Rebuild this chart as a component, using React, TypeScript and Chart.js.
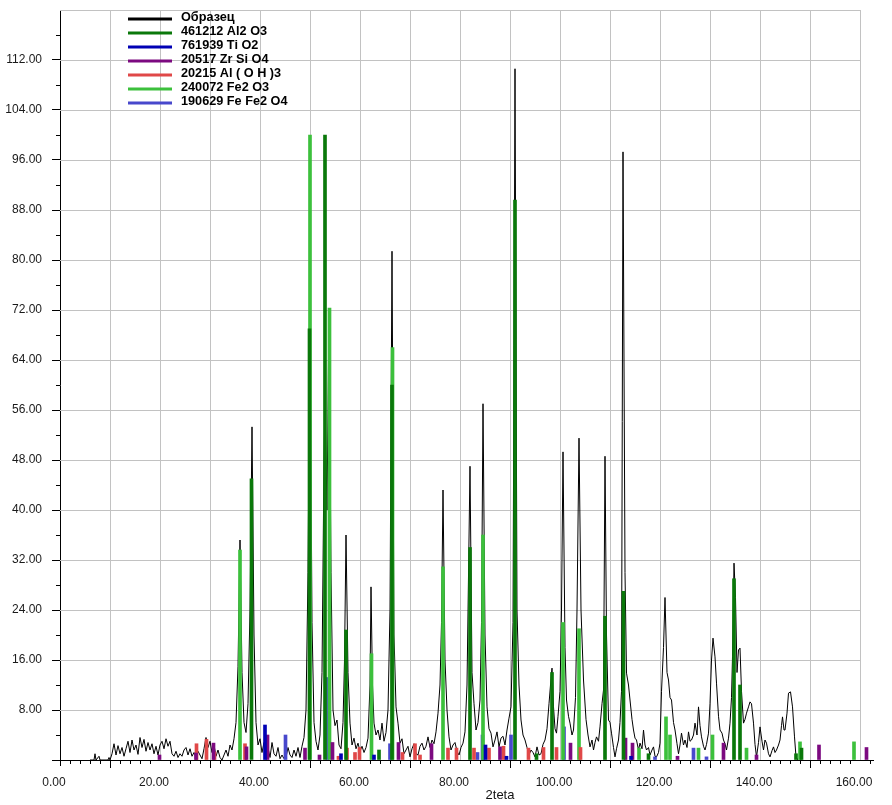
import React, { useEffect, useRef } from 'react';
import { Chart, registerables } from 'chart.js';
Chart.register(...registerables);

// ---- data: 2theta (deg), intensity ----
const sampleLabel = 'Образец';
const sample: [number, number][] = [
  [6, 0], [6.8, 0], [7.0, 1.0], [7.2, 0], [7.8, 0.6], [8.0, 0], [9.6, 0], [9.8, 0.4], [10.0, 0],
  [10.4, 1.0], [10.8, 2.6], [11.2, 0.8], [11.6, 2.3], [12.0, 1.0], [12.4, 2.0], [12.8, 0.6], [13.2, 1.8],
  [13.6, 3.0], [14.0, 1.2], [14.4, 3.2], [14.8, 1.6], [15.2, 2.4], [15.6, 0.9], [16.0, 3.6], [16.4, 2.0],
  [16.8, 3.3], [17.2, 1.4], [17.6, 2.8], [18.0, 1.6], [18.4, 2.6], [18.8, 1.0], [19.2, 2.2], [19.6, 0.8],
  [20.0, 2.4], [20.4, 3.0], [20.8, 1.8], [21.2, 3.4], [21.6, 2.2], [22.0, 3.0], [22.4, 1.0], [22.8, 0.6],
  [23.2, 1.4], [23.6, 0.4], [24.0, 1.0], [24.4, 0.6], [24.8, 1.6], [25.2, 2.0], [25.6, 0.8], [26.0, 1.8],
  [26.4, 0.6], [26.8, 1.2], [27.2, 0.4], [27.6, 1.4], [28.0, 0.8], [28.4, 0.2], [28.8, 1.8], [29.2, 3.6],
  [29.6, 2.0], [30.0, 3.0], [30.4, 1.2], [30.8, 2.4], [31.2, 0.6], [31.6, 1.6], [32.0, 0.4], [32.4, 0.0],
  [32.8, 0.8], [33.2, 1.6], [33.6, 0.6], [34.0, 2.4], [34.4, 1.6], [34.8, 3.4], [35.2, 6], [35.6, 15],
  [36.0, 35.2], [36.4, 14], [36.8, 6], [37.2, 4.4], [37.6, 9], [38.0, 24], [38.4, 53.3], [38.8, 20],
  [39.2, 6], [39.6, 2.4], [40.0, 3.4], [40.4, 1.2], [40.8, 2.8], [41.2, 0.6], [41.6, 2.0], [42.0, 0.4],
  [42.4, 2.8], [42.8, 1.0], [43.2, 0.6], [43.6, 2.0], [44.0, 0.2], [44.4, 0.8], [44.8, 0.2], [45.2, 0.4],
  [45.6, 2.0], [46.0, 0.8], [46.4, 0.4], [46.8, 1.6], [47.2, 0.6], [47.6, 2.0], [48.0, 0.4], [48.4, 2.2],
  [48.8, 3.6], [49.2, 8], [49.6, 30], [50.0, 70], [50.4, 22], [50.8, 6], [51.2, 3], [51.6, 1.6],
  [52.0, 4], [52.4, 14], [52.8, 48], [53.0, 57.6], [53.4, 40], [53.8, 72.3], [54.2, 30], [54.6, 8],
  [55.0, 5.5], [55.4, 6.4], [55.8, 2.4], [56.2, 1.8], [56.6, 6], [56.9, 16], [57.2, 36], [57.6, 14],
  [58.0, 5.9], [58.4, 2.4], [58.8, 3.5], [59.2, 1.8], [59.6, 2.7], [60.0, 1.4], [60.4, 2.2], [60.8, 1.2],
  [61.2, 2.0], [61.6, 3.5], [62.0, 12], [62.2, 27.7], [62.5, 12], [62.8, 5.9], [63.2, 4.0], [63.6, 4.8],
  [64.0, 3.2], [64.4, 5.9], [64.8, 3.0], [65.2, 4.4], [65.6, 8], [66.0, 24], [66.4, 81.4], [66.8, 20],
  [67.2, 8.5], [67.6, 5.9], [68.0, 2.7], [68.4, 3.4], [68.8, 1.0], [69.2, 1.6], [69.6, 2.2], [70.0, 0.5],
  [70.4, 1.8], [70.8, 2.6], [71.2, 1.0], [71.6, 0.8], [72.0, 2.2], [72.4, 2.7], [72.8, 1.6], [73.2, 2.2],
  [73.6, 3.7], [74.0, 2.0], [74.4, 3.2], [74.8, 2.6], [75.2, 4.5], [75.6, 7.5], [76.0, 12], [76.3, 22],
  [76.6, 43.2], [77.0, 16], [77.4, 8], [77.8, 3.7], [78.2, 1.6], [78.6, 2.4], [79.0, 2.8], [79.4, 1.4],
  [79.8, 0.8], [80.2, 2.0], [80.6, 2.7], [81.0, 4.5], [81.4, 12], [82.0, 47], [82.4, 14], [82.8, 9],
  [83.2, 4.8], [83.6, 6], [84.0, 9.6], [84.3, 22], [84.6, 57], [85.0, 20], [85.4, 8.5], [85.8, 5],
  [86.2, 4.3], [86.6, 2.1], [87.0, 3.2], [87.4, 4.5], [87.8, 2.1], [88.2, 3.5], [88.6, 3.8], [89.0, 2.4],
  [89.4, 4.8], [89.8, 6.7], [90.2, 8.5], [90.6, 22], [91.0, 110.6], [91.4, 24], [91.8, 12], [92.2, 6.4],
  [92.6, 4.0], [93.0, 3.2], [93.4, 2.0], [93.8, 0.8], [94.2, 1.6], [94.6, 1.2], [95.0, 0.5], [95.4, 2.1],
  [95.8, 0.8], [96.2, 1.0], [96.6, 2.5], [97.0, 3.2], [97.4, 5], [97.8, 9], [98.2, 13], [98.4, 14.7],
  [98.7, 8.5], [99.0, 5], [99.3, 4.3], [99.6, 7], [100.0, 11], [100.3, 24], [100.6, 49.3], [101.0, 18],
  [101.3, 9.6], [101.7, 7], [102.0, 5.9], [102.4, 4.0], [102.7, 4.8], [103.1, 10], [103.4, 24], [103.8, 51.5],
  [104.2, 24], [104.7, 12.8], [105.2, 6.5], [105.6, 4], [106.0, 2.1], [106.4, 3.2], [106.7, 1.6], [107.0, 2.8],
  [107.3, 3.7], [107.7, 3.0], [108.0, 5.3], [108.4, 9], [108.7, 11.2], [109.0, 48.6], [109.3, 20], [109.7, 6.4],
  [110.0, 6], [110.3, 4.3], [110.7, 2], [111.0, 0.5], [111.3, 1.8], [111.7, 3.2], [112.0, 6], [112.3, 11],
  [112.6, 97.3], [113.0, 30], [113.3, 13.9], [113.7, 12], [114.0, 9.6], [114.4, 6.5], [114.7, 4.8], [115.0, 3.5],
  [115.3, 3.2], [115.7, 1.6], [116.0, 2.7], [116.4, 1.8], [116.7, 4.8], [117.0, 2.4], [117.3, 1.6], [117.7, 2.0],
  [118.0, 0.8], [118.4, 1.6], [118.7, 2.1], [119.0, 0.6], [119.3, 0.5], [119.7, 1.2], [120.0, 2.7], [120.3, 11],
  [120.7, 18], [121.0, 26], [121.4, 14], [121.7, 12.8], [122.0, 10], [122.3, 9.6], [122.7, 6], [123.0, 4.8],
  [123.4, 2.6], [123.7, 1.0], [124.0, 2.4], [124.3, 4.3], [124.7, 2.4], [125.0, 3.2], [125.4, 2.0], [125.7, 4.5],
  [126.0, 3.0], [126.3, 3.2], [126.7, 4.0], [127.0, 5.9], [127.4, 4], [127.7, 8.5], [128.0, 5.5], [128.3, 3.7],
  [128.7, 2.2], [129.0, 1.6], [129.3, 2.5], [129.7, 4.3], [130.0, 9], [130.3, 16], [130.6, 19.5], [131.0, 16.5],
  [131.3, 12.3], [131.7, 7], [132.0, 4.8], [132.4, 4.3], [132.7, 3.2], [133.0, 2.6], [133.3, 1.6], [133.7, 3.5],
  [134.0, 5.9], [134.3, 10], [134.5, 16.5], [134.8, 31.5], [135.1, 26], [135.4, 14], [135.7, 17.6], [136.0, 17.9],
  [136.3, 11], [136.7, 5.9], [137.0, 6.5], [137.3, 7.5], [137.7, 8.5], [138.0, 9.3], [138.3, 9.0], [138.7, 5.9],
  [139.0, 2.5], [139.3, 0.5], [139.7, 2.8], [140.0, 5.3], [140.4, 3.0], [140.7, 1.6], [141.0, 3.2], [141.3, 2.7],
  [141.7, 1.0], [142.0, 0.5], [142.4, 1.5], [142.7, 2.1], [143.0, 1.2], [143.3, 1.6], [143.7, 2.4], [144.0, 3.2],
  [144.3, 5.5], [144.5, 6.9], [144.8, 4.8], [145.0, 4.8], [145.4, 7.5], [145.7, 10.7], [146.1, 10.9], [146.5, 8.5],
  [146.9, 3.7], [147.2, 0.5], [147.6, 0],
];

const al2o3Label = '461212 Al2 O3';
const al2o3: [number, number][] = [
  [38.3, 45], [49.9, 69], [53.0, 100], [57.2, 20.8], [63.8, 1.6], [66.4, 60], [82.0, 34], [91.0, 89.6],
  [95.3, 1.0], [98.4, 14], [109.0, 23], [112.7, 27], [117.7, 1.0], [134.8, 29], [136.0, 12], [147.2, 1.0], [148.3, 1.9],
];

const tio2Label = '761939 Ti O2';
const tio2: [number, number][] = [
  [41.0, 5.6], [56.2, 1.0], [62.8, 0.8], [85.1, 2.4], [89.3, 0.6], [114.2, 0.6],
];

const zrsio4Label = '20517 Zr Si O4';
const zrsio4: [number, number][] = [
  [19.9, 0.8], [27.2, 1.1], [30.7, 2.7], [37.3, 2.1], [41.5, 4.0], [49.0, 1.9], [51.9, 0.8], [54.5, 2.8],
  [67.7, 2.8], [74.3, 2.6], [88.0, 2.1], [102.1, 2.7], [113.1, 3.5], [114.5, 2.7], [123.5, 0.6], [132.7, 2.7],
  [139.3, 0.8], [151.8, 2.4], [161.3, 2.0],
];

const aloh3Label = '20215 Al ( O H )3';
const aloh3: [number, number][] = [
  [27.3, 2.6], [29.3, 3.3], [30.9, 1.3], [37.0, 2.6], [55.7, 0.6], [57.4, 1.9], [59.0, 1.2], [59.9, 2.0],
  [68.5, 1.2], [71.0, 2.6], [72.0, 0.8], [77.6, 1.9], [79.3, 1.9], [82.8, 1.9], [85.8, 1.9], [88.7, 2.2],
  [93.7, 1.9], [96.7, 2.0], [99.3, 2.0], [104.1, 2.0],
];

const fe2o3Label = '240072 Fe2 O3';
const fe2o3: [number, number][] = [
  [36.0, 33.6], [50.0, 100], [53.9, 72.3], [62.3, 17], [66.5, 66], [76.6, 30.9], [84.6, 36], [100.6, 22],
  [103.8, 21], [115.8, 1.9], [121.2, 6.9], [122.0, 4.0], [127.7, 1.9], [130.5, 4.0], [137.3, 1.9], [148.0, 2.9],
  [158.8, 2.9],
];

const fefe2o4Label = '190629 Fe Fe2 O4';
const fefe2o4: [number, number][] = [
  [45.1, 4.0], [53.5, 13.2], [66.0, 2.6], [83.5, 1.2], [84.5, 4.0], [90.2, 4.0], [100.8, 5.3], [119.0, 0.5],
  [126.7, 1.9], [129.3, 0.5],
];

const xTitle = '2teta';
const X_MIN = 0, X_MAX = 162.6, X_GRID_END = 160, X_MAJOR = 20, X_MINOR = 2, X_GRID = 10;
const Y_MIN = 0, Y_MAX = 120, Y_MAJOR = 8, Y_MINOR = 4;

const COLORS = {
  sample: '#000000',
  al2o3: '#0a780a',
  tio2: '#0000b4',
  zrsio4: '#7c0a80',
  aloh3: '#e04848',
  fe2o3: '#3cc03c',
  fefe2o4: '#4848cc',
};

const toXY = (a: [number, number][]) => a.map(([x, y]) => ({ x, y }));

const FONT = "'Liberation Sans', Arial, sans-serif";

const decorPlugin = {
  id: 'decor',
  beforeDatasetsDraw(chart: any) {
    const { ctx } = chart;
    const xs = chart.scales.x, ys = chart.scales.y;
    const x0 = xs.getPixelForValue(X_MIN), x1 = xs.getPixelForValue(X_GRID_END);
    const y0 = ys.getPixelForValue(Y_MIN), y1 = ys.getPixelForValue(Y_MAX);
    ctx.save();
    ctx.strokeStyle = '#c2c2c2';
    ctx.lineWidth = 1;
    ctx.beginPath();
    for (let v = Y_MAJOR; v <= Y_MAX; v += Y_MAJOR) {
      const py = Math.round(ys.getPixelForValue(v)) + 0.5;
      ctx.moveTo(x0, py); ctx.lineTo(x1, py);
    }
    for (let v = X_GRID; v <= X_GRID_END; v += X_GRID) {
      const px = Math.round(xs.getPixelForValue(v)) + 0.5;
      ctx.moveTo(px, y0); ctx.lineTo(px, y1);
    }
    ctx.stroke();
    ctx.restore();
  },
  afterDraw(chart: any) {
    const { ctx } = chart;
    const xs = chart.scales.x, ys = chart.scales.y;
    const y0 = Math.round(ys.getPixelForValue(Y_MIN));
    const x0 = Math.round(xs.getPixelForValue(X_MIN));
    ctx.save();
    ctx.strokeStyle = '#000';
    ctx.lineWidth = 1;
    ctx.beginPath();
    for (let v = X_MINOR; v <= X_MAX; v += X_MINOR) {
      if (Math.abs(v % X_MAJOR) < 1e-6) continue;
      const px = Math.round(xs.getPixelForValue(v)) + 0.5;
      ctx.moveTo(px, y0); ctx.lineTo(px, y0 + 4);
    }
    for (let v = Y_MINOR; v < Y_MAX; v += Y_MAJOR) {
      const py = Math.round(ys.getPixelForValue(v)) + 0.5;
      ctx.moveTo(x0 - 4, py); ctx.lineTo(x0, py);
    }
    ctx.moveTo(x0 - 7, y0 + 0.5); ctx.lineTo(x0, y0 + 0.5);
    ctx.moveTo(x0 + 0.5, y0); ctx.lineTo(x0 + 0.5, y0 + 6);
    ctx.stroke();

    // legend
    const ds = chart.data.datasets;
    ctx.font = `bold 12.7px ${FONT}`;
    ctx.textBaseline = 'middle';
    ctx.textAlign = 'left';
    ds.forEach((d: any, i: number) => {
      const ly = 19 + i * 14;
      ctx.fillStyle = d.legendColor;
      ctx.fillRect(128, ly - 1.5, 44, 3);
      ctx.fillStyle = '#000';
      ctx.fillText(d.label, 181, ly - 1.5);
    });

    // axis title
    ctx.font = `13px ${FONT}`;
    ctx.textAlign = 'center';
    ctx.textBaseline = 'alphabetic';
    ctx.fillStyle = '#111';
    ctx.fillText(xTitle, xs.getPixelForValue(88), 799);
    ctx.restore();
  },
};

const stick = (label: string, data: [number, number][], color: string) => ({
  type: 'bar' as const,
  label,
  data: toXY(data),
  backgroundColor: color,
  borderWidth: 0,
  barThickness: 3,
  grouped: false,
  order: 1,
  legendColor: color,
});

export default function App() {
  const ref = useRef<HTMLCanvasElement | null>(null);
  useEffect(() => {
    if (!ref.current) return;
    const chart = new Chart(ref.current, {
      type: 'bar',
      data: {
        datasets: [
          {
            type: 'line',
            label: sampleLabel,
            data: toXY(sample),
            borderColor: COLORS.sample,
            borderWidth: 1,
            pointRadius: 0,
            tension: 0,
            order: 2,
            legendColor: COLORS.sample,
          } as any,
          stick(al2o3Label, al2o3, COLORS.al2o3),
          stick(tio2Label, tio2, COLORS.tio2),
          stick(zrsio4Label, zrsio4, COLORS.zrsio4),
          stick(aloh3Label, aloh3, COLORS.aloh3),
          stick(fe2o3Label, fe2o3, COLORS.fe2o3),
          stick(fefe2o4Label, fefe2o4, COLORS.fefe2o4),
        ],
      },
      options: {
        responsive: false,
        animation: false,
        layout: { padding: { top: 10, right: 19, left: 0, bottom: 0 } },
        plugins: { legend: { display: false }, tooltip: { enabled: false } },
        scales: {
          x: {
            type: 'linear',
            min: X_MIN,
            max: X_MAX,
            offset: false,
            afterFit: (s: any) => { s.height = 45; s.paddingLeft = 0; s.paddingRight = 0; },
            border: { display: true, color: '#000', width: 1 },
            grid: { drawOnChartArea: false, drawTicks: true, tickLength: 8, tickColor: '#000' },
            ticks: {
              stepSize: X_MAJOR,
              includeBounds: false,
              autoSkip: false,
              maxRotation: 0,
              padding: 7,
              labelOffset: -6,
              color: '#1a1a1a',
              font: { family: FONT, size: 12 },
              callback: (v: any) => Number(v).toFixed(2),
            },
          },
          y: {
            type: 'linear',
            min: Y_MIN,
            max: Y_MAX,
            afterFit: (s: any) => { s.width = 60; s.paddingTop = 0; s.paddingBottom = 0; },
            border: { display: true, color: '#000', width: 1 },
            grid: {
              drawOnChartArea: false,
              drawTicks: true,
              tickLength: 8,
              tickColor: (c: any) => (c.tick && c.tick.value === Y_MAX ? 'rgba(0,0,0,0)' : '#000'),
            },
            ticks: {
              stepSize: Y_MAJOR,
              padding: 10,
              color: '#1a1a1a',
              font: { family: FONT, size: 12 },
              callback: (v: any) => (v === Y_MIN || v === Y_MAX ? '' : Number(v).toFixed(2)),
            },
          },
        },
      } as any,
      plugins: [decorPlugin],
    });
    return () => chart.destroy();
  }, []);
  return (
    <div style={{ position: 'fixed', left: 0, top: 0, width: 892, height: 805, background: '#fff' }}>
      <canvas ref={ref} width={892} height={805} style={{ width: 892, height: 805, display: 'block' }} />
    </div>
  );
}
